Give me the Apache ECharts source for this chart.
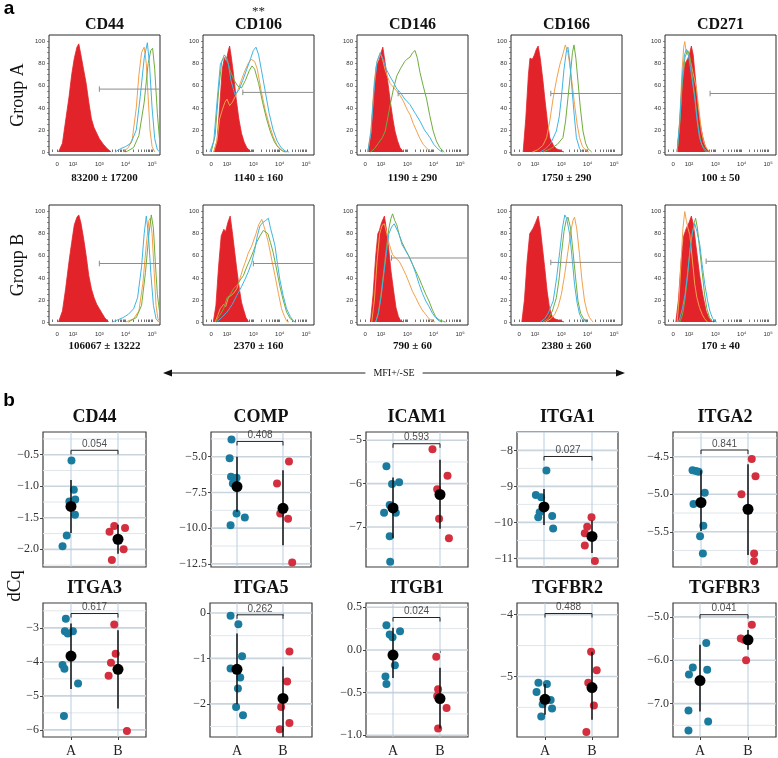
<!DOCTYPE html>
<html><head><meta charset="utf-8">
<script src="https://cdn.jsdelivr.net/npm/echarts@6/dist/echarts.min.js"></script>
<style>html,body{margin:0;padding:0;background:#fff}#c{width:778px;height:758px}</style>
</head><body><div id="c"></div><script>
// ---------------- DATA: flow cytometry (panel a) ----------------
const flowMarkers = ['CD44','CD106','CD146','CD166','CD271'];
const mfiA = ['83200 ± 17200','1140 ± 160','1190 ± 290','1750 ± 290','100 ± 50'];
const mfiB = ['106067 ± 13222','2370 ± 160','790 ± 60','2380 ± 260','170 ± 40'];
const gateStartA = [3.0, 2.6, 2.65, 2.6, 2.8];
const gateLevelA = [57, 54, 53, 53, 53];
const gateStartB = [3.0, 3.0, 2.4, 2.6, 2.65];
const gateLevelB = [53, 53, 58, 54, 55];
const flowXTickPos = [1.4, 2, 3, 4, 5];
const flowXTickLabels = ['0','10²','10³','10⁴','10⁵'];
const flowYTicks = [0,20,40,60,80,100];

const cd44A_red = [[1.45,0],[1.6,8],[1.7,25],[1.85,50],[1.95,70],[2.05,85],[2.15,95],[2.22,98],[2.3,88],[2.4,75],[2.5,62],[2.6,45],[2.7,30],[2.8,22],[2.9,17],[3.0,12],[3.15,7],[3.3,3],[3.45,0]];
const cd44A_orange = [[3.9,0],[4.1,4],[4.25,12],[4.4,40],[4.5,70],[4.6,90],[4.7,95],[4.78,80],[4.85,50],[4.92,20],[5.0,5],[5.1,0]];
const cd44A_blue = [[3.6,0],[3.8,3],[4.0,5],[4.2,8],[4.4,20],[4.55,50],[4.7,85],[4.82,99],[4.9,80],[5.0,40],[5.1,12],[5.2,2],[5.3,0]];
const cd44A_green = [[4.0,0],[4.3,4],[4.5,15],[4.7,45],[4.85,80],[4.95,92],[5.02,94],[5.1,75],[5.2,35],[5.28,12]];

const cd106A_red = [[1.5,0],[1.62,10],[1.72,40],[1.82,75],[1.9,85],[1.97,82],[2.05,92],[2.1,96],[2.17,85],[2.25,70],[2.35,48],[2.45,30],[2.55,17],[2.65,9],[2.75,4],[2.9,0]];
const cd106A_orange = [[1.5,0],[1.62,10],[1.72,30],[1.82,38],[1.92,45],[2.0,48],[2.1,42],[2.2,45],[2.35,52],[2.5,62],[2.65,72],[2.8,80],[2.92,84],[3.05,82],[3.15,75],[3.3,55],[3.45,38],[3.6,25],[3.75,14],[3.9,6],[4.05,2],[4.2,0]];
const cd106A_blue = [[1.35,0],[1.5,10],[1.62,45],[1.75,80],[1.85,84],[1.93,86],[2.05,80],[2.15,65],[2.3,52],[2.45,56],[2.6,65],[2.75,75],[2.9,85],[3.0,92],[3.1,95],[3.2,88],[3.3,75],[3.45,55],[3.6,35],[3.75,20],[3.9,10],[4.05,4],[4.2,1],[4.35,0]];
const cd106A_green = [[1.4,0],[1.55,15],[1.68,55],[1.8,82],[1.9,88],[2.0,85],[2.1,75],[2.25,66],[2.4,60],[2.55,58],[2.7,65],[2.85,74],[2.95,78],[3.05,75],[3.2,62],[3.35,45],[3.5,30],[3.65,18],[3.8,9],[3.95,4],[4.1,1],[4.25,0]];

const cd146A_red = [[1.5,0],[1.62,15],[1.72,50],[1.82,78],[1.94,84],[2.0,90],[2.07,95],[2.15,82],[2.25,65],[2.34,48],[2.45,30],[2.53,19],[2.63,10],[2.72,4],[2.85,0]];
const cd146A_orange = [[1.5,0],[1.62,20],[1.75,65],[1.85,82],[1.97,89],[2.05,85],[2.15,75],[2.25,68],[2.35,62],[2.5,58],[2.6,55],[2.73,51],[2.85,46],[3.0,38],[3.1,34],[3.22,26],[3.35,19],[3.48,12],[3.6,7],[3.75,3],[3.9,0]];
const cd146A_blue = [[1.5,0],[1.62,18],[1.75,60],[1.85,82],[1.97,90],[2.08,84],[2.2,75],[2.35,68],[2.5,62],[2.6,57],[2.73,54],[2.9,48],[3.1,43],[3.3,35],[3.48,28],[3.65,20],[3.86,13],[4.0,7],[4.11,4],[4.25,1],[4.35,0]];
const cd146A_green = [[1.6,0],[1.75,3],[1.9,8],[2.05,13],[2.16,19],[2.25,30],[2.35,43],[2.48,58],[2.6,69],[2.75,76],[2.9,82],[2.98,84],[3.1,86],[3.2,90],[3.29,92],[3.38,85],[3.48,72],[3.6,60],[3.73,48],[3.85,33],[3.98,19],[4.1,10],[4.23,4],[4.4,0]];

const cd166A_red = [[1.55,0],[1.65,30],[1.75,70],[1.81,85],[1.9,84],[1.98,88],[2.05,93],[2.12,96],[2.2,85],[2.3,65],[2.37,49],[2.47,28],[2.56,13],[2.7,6],[2.81,3],[3.0,1],[3.1,0]];
const cd166A_orange = [[1.9,0],[2.1,2],[2.3,6],[2.44,13],[2.56,28],[2.69,49],[2.82,66],[2.94,79],[3.05,88],[3.15,97],[3.25,90],[3.32,79],[3.42,60],[3.5,43],[3.6,25],[3.69,13],[3.8,5],[3.95,1],[4.05,0]];
const cd166A_blue = [[2.2,0],[2.4,3],[2.6,8],[2.81,19],[2.92,32],[3.0,49],[3.1,75],[3.2,93],[3.25,95],[3.32,82],[3.38,64],[3.47,38],[3.57,13],[3.69,3],[3.8,0]];
const cd166A_green = [[2.3,0],[2.6,3],[2.85,7],[3.06,13],[3.16,28],[3.25,49],[3.35,72],[3.42,90],[3.48,97],[3.55,85],[3.63,64],[3.72,40],[3.82,19],[3.92,8],[4.01,3],[4.15,0]];

const cd271A_red = [[1.55,0],[1.65,25],[1.75,60],[1.85,80],[1.96,85],[2.03,90],[2.09,96],[2.16,88],[2.25,65],[2.34,40],[2.43,25],[2.53,13],[2.62,5],[2.72,1],[2.8,0]];
const cd271A_orange = [[1.55,0],[1.65,30],[1.74,75],[1.8,95],[1.84,100],[1.9,90],[1.96,88],[2.03,85],[2.15,72],[2.28,58],[2.38,38],[2.47,19],[2.56,9],[2.65,4],[2.78,0]];
const cd271A_blue = [[1.55,0],[1.65,28],[1.75,70],[1.83,88],[1.9,93],[1.98,88],[2.08,72],[2.15,60],[2.22,49],[2.3,30],[2.4,13],[2.5,6],[2.59,3],[2.7,0]];
const cd271A_green = [[1.55,0],[1.65,25],[1.75,65],[1.85,86],[1.95,92],[2.02,88],[2.1,74],[2.18,58],[2.26,42],[2.34,25],[2.44,10],[2.55,3],[2.65,0]];

const cd44B_red = [[1.45,0],[1.6,10],[1.72,30],[1.85,55],[1.95,72],[2.05,88],[2.15,95],[2.22,97],[2.3,90],[2.4,76],[2.5,60],[2.6,42],[2.7,30],[2.8,22],[2.9,16],[3.0,12],[3.1,8],[3.2,4],[3.35,0]];
const cd44B_orange = [[4.0,0],[4.3,3],[4.5,10],[4.65,35],[4.78,70],[4.88,92],[4.93,94],[5.0,80],[5.08,45],[5.15,15],[5.22,3],[5.3,0]];
const cd44B_blue = [[3.5,0],[3.7,2],[3.9,4],[4.1,7],[4.3,12],[4.45,22],[4.6,50],[4.7,80],[4.78,96],[4.86,80],[4.95,45],[5.05,15],[5.15,3],[5.25,0]];
const cd44B_green = [[4.1,0],[4.4,4],[4.6,15],[4.75,45],[4.88,80],[4.97,97],[5.05,85],[5.12,55],[5.2,25],[5.28,10]];

const cd106B_red = [[1.48,0],[1.58,15],[1.68,50],[1.78,78],[1.88,84],[1.95,82],[2.03,90],[2.12,96],[2.2,82],[2.3,62],[2.37,48],[2.47,30],[2.55,18],[2.62,12],[2.72,4],[2.82,0]];
const cd106B_orange = [[1.55,0],[1.65,6],[1.74,12],[1.87,16],[1.95,14],[2.05,22],[2.12,21],[2.25,26],[2.37,30],[2.5,40],[2.6,48],[2.69,54],[2.8,62],[2.94,69],[3.1,80],[3.2,88],[3.32,93],[3.45,83],[3.57,72],[3.7,56],[3.82,42],[3.95,26],[4.07,12],[4.18,5],[4.26,1],[4.35,0]];
const cd106B_blue = [[1.6,0],[1.8,4],[2.0,9],[2.2,16],[2.37,24],[2.55,32],[2.69,39],[2.8,45],[2.94,54],[3.05,65],[3.15,78],[3.25,87],[3.35,90],[3.47,92],[3.57,94],[3.65,85],[3.75,76],[3.82,69],[3.92,52],[4.0,39],[4.13,24],[4.26,12],[4.4,5],[4.51,1],[4.6,0]];
const cd106B_green = [[1.55,0],[1.7,5],[1.87,12],[2.0,22],[2.1,24],[2.25,30],[2.4,34],[2.5,38],[2.62,42],[2.75,50],[2.88,57],[3.0,64],[3.12,72],[3.25,78],[3.38,83],[3.45,84],[3.55,80],[3.65,72],[3.75,63],[3.88,48],[4.0,33],[4.13,20],[4.26,9],[4.4,3],[4.51,1],[4.6,0]];

const cd146B_red = [[1.6,0],[1.7,25],[1.8,60],[1.88,80],[1.94,83],[2.02,90],[2.13,96],[2.2,85],[2.3,65],[2.38,46],[2.48,28],[2.57,13],[2.66,5],[2.75,1],[2.85,0]];
const cd146B_orange = [[1.65,0],[1.75,20],[1.85,55],[1.95,80],[2.05,88],[2.13,89],[2.22,80],[2.32,70],[2.44,61],[2.55,58],[2.69,55],[2.8,50],[2.94,43],[3.06,36],[3.19,28],[3.32,22],[3.44,16],[3.56,11],[3.69,7],[3.82,3],[3.94,1],[4.05,0]];
const cd146B_blue = [[1.8,0],[1.9,8],[2.0,22],[2.1,42],[2.2,62],[2.3,80],[2.4,86],[2.5,89],[2.57,89],[2.68,80],[2.8,70],[2.95,64],[3.07,59],[3.2,52],[3.32,44],[3.45,34],[3.57,26],[3.7,19],[3.82,14],[3.95,8],[4.07,4],[4.2,1],[4.3,0]];
const cd146B_green = [[1.8,0],[1.9,8],[2.0,25],[2.1,45],[2.19,64],[2.3,85],[2.38,94],[2.44,98],[2.52,92],[2.6,88],[2.69,79],[2.8,72],[2.92,66],[3.07,59],[3.2,52],[3.32,46],[3.44,40],[3.56,33],[3.7,25],[3.82,19],[3.95,11],[4.07,5],[4.2,2],[4.32,1],[4.45,0]];

const cd166B_red = [[1.5,0],[1.6,20],[1.7,55],[1.8,80],[1.93,85],[2.02,90],[2.12,96],[2.2,85],[2.28,68],[2.37,49],[2.46,28],[2.55,13],[2.64,6],[2.74,3],[2.85,2],[3.0,1],[3.1,0]];
const cd166B_orange = [[2.4,0],[2.6,3],[2.75,7],[2.88,14],[3.0,25],[3.12,42],[3.25,64],[3.36,82],[3.44,92],[3.5,95],[3.58,85],[3.69,61],[3.78,38],[3.88,19],[3.98,9],[4.07,4],[4.2,0]];
const cd166B_blue = [[2.2,0],[2.37,3],[2.5,8],[2.69,19],[2.82,40],[2.94,64],[3.04,85],[3.13,97],[3.2,94],[3.32,79],[3.42,55],[3.5,34],[3.6,17],[3.69,7],[3.8,2],[3.88,1],[3.95,0]];
const cd166B_green = [[2.3,0],[2.5,3],[2.66,10],[2.81,22],[2.92,40],[3.0,61],[3.1,82],[3.18,92],[3.25,95],[3.35,85],[3.44,64],[3.54,40],[3.63,19],[3.73,8],[3.82,4],[3.95,0]];

const cd271B_red = [[1.5,0],[1.6,20],[1.7,55],[1.8,78],[1.9,85],[2.0,90],[2.09,96],[2.17,88],[2.27,68],[2.4,43],[2.52,25],[2.65,10],[2.75,4],[2.84,1],[2.95,0]];
const cd271B_orange = [[1.55,0],[1.62,20],[1.7,55],[1.77,85],[1.84,100],[1.9,92],[1.96,85],[2.03,79],[2.12,58],[2.22,34],[2.3,22],[2.4,13],[2.5,7],[2.59,3],[2.7,0]];
const cd271B_blue = [[1.6,0],[1.66,4],[1.75,12],[1.85,25],[1.95,45],[2.04,65],[2.12,80],[2.22,89],[2.3,82],[2.41,70],[2.5,52],[2.6,34],[2.7,20],[2.79,10],[2.9,3],[2.98,1],[3.05,0]];
const cd271B_green = [[1.65,0],[1.75,6],[1.84,19],[1.94,40],[2.03,64],[2.12,80],[2.2,90],[2.25,94],[2.32,85],[2.4,67],[2.5,45],[2.59,25],[2.68,12],[2.78,4],[2.9,0]];

// ---------------- DATA: qPCR dCq (panel b) ----------------
const genes = ['CD44','COMP','ICAM1','ITGA1','ITGA2','ITGA3','ITGA5','ITGB1','TGFBR2','TGFBR3'];
const pValues = ['0.054','0.408','0.593','0.027','0.841','0.617','0.262','0.024','0.488','0.041'];
const yTickValues = [[-2,-1.5,-1,-0.5],[-12.5,-10,-7.5,-5],[-7,-6,-5],[-11,-10,-9,-8],[-5.5,-5,-4.5],[-6,-5,-4,-3],[-2,-1,0],[-1,-0.5,0,0.5],[-5,-4],[-7,-6,-5]];
const yTickDecimals = [1,1,0,0,1,0,0,1,0,1];
const yMinG = [-2.28,-12.72,-7.92,-11.24,-5.97,-6.21,-2.73,-1.02,-5.98,-7.77];
const yMaxG = [-0.14,-3.27,-4.81,-7.49,-4.17,-2.27,0.22,0.55,-3.81,-4.68];

const CD44_A = [-0.59,-1.055,-1.24,-1.21,-1.45,-1.78,-1.95];
const CD44_Ajit = [0.01,0.06,-0.035,0.09,0.085,-0.09,-0.18];
const CD44_B = [-1.63,-1.72,-1.66,-2.0,-2.17];
const CD44_Bjit = [-0.08,-0.18,0.15,0.12,-0.13];
const COMP_A = [-3.79,-5.1,-6.4,-6.47,-6.88,-8.97,-9.25,-9.8];
const COMP_Ajit = [-0.12,-0.16,-0.13,-0.01,-0.09,-0.01,0.17,-0.14];
const COMP_B = [-5.33,-6.88,-8.97,-9.35,-12.4];
const COMP_Bjit = [0.13,-0.13,-0.06,0.11,0.2];
const ICAM1_A = [-5.6,-6.01,-5.97,-6.49,-6.67,-6.67,-7.21,-7.8];
const ICAM1_Ajit = [-0.14,-0.02,0.13,-0.07,-0.19,0.06,-0.07,-0.06];
const ICAM1_B = [-5.21,-5.82,-6.13,-6.81,-7.26];
const ICAM1_Bjit = [-0.16,0.16,-0.06,-0.02,0.19];
const ITGA1_A = [-8.56,-9.24,-9.3,-9.72,-9.86,-9.82,-10.17];
const ITGA1_Ajit = [0.05,-0.17,-0.06,-0.09,-0.12,0.17,0.19];
const ITGA1_B = [-9.86,-10.12,-10.3,-10.64,-11.07];
const ITGA1_Bjit = [-0.01,-0.1,-0.15,-0.15,0.06];
const ITGA2_A = [-4.68,-4.69,-4.7,-4.98,-5.13,-5.42,-5.56,-5.79];
const ITGA2_Ajit = [-0.18,-0.11,-0.05,0.08,-0.16,0.05,-0.02,0.04];
const ITGA2_B = [-4.53,-4.76,-5.0,-5.79,-5.89];
const ITGA2_Bjit = [0.08,0.16,-0.14,0.13,0.13];
const ITGA3_A = [-2.73,-3.1,-3.17,-3.1,-4.09,-4.2,-4.64,-5.59];
const ITGA3_Ajit = [-0.11,-0.13,-0.07,0.04,-0.18,-0.14,0.15,-0.15];
const ITGA3_B = [-2.9,-3.76,-4.03,-4.41,-6.03];
const ITGA3_Bjit = [-0.08,-0.05,-0.15,-0.2,0.19];
const ITGA5_A = [-0.06,-0.25,-0.95,-1.22,-1.42,-1.66,-2.07,-2.25];
const ITGA5_Ajit = [-0.14,0.03,0.11,-0.14,0.07,0.02,-0.02,0.13];
const ITGA5_B = [-0.85,-1.51,-2.07,-2.42,-2.56];
const ITGA5_Bjit = [0.14,0.09,-0.04,0.14,-0.07];
const ITGB1_A = [0.29,0.18,0.15,0.22,-0.18,-0.31,-0.40];
const ITGB1_Ajit = [-0.14,-0.07,-0.01,0.15,0.04,-0.16,-0.14];
const ITGB1_B = [-0.08,-0.46,-0.54,-0.68,-0.92];
const ITGB1_Bjit = [-0.08,-0.04,-0.06,0.14,-0.04];
const TGFBR2_A = [-5.1,-5.12,-5.25,-5.38,-5.45,-5.52,-5.65];
const TGFBR2_Ajit = [-0.14,0.04,-0.18,0.12,-0.05,0.15,-0.08];
const TGFBR2_B = [-4.6,-4.9,-5.1,-5.47,-5.9];
const TGFBR2_Bjit = [-0.02,0.1,-0.08,0.04,-0.12];
const TGFBR3_A = [-5.6,-6.17,-6.33,-6.22,-7.16,-7.41,-7.62];
const TGFBR3_Ajit = [0.13,-0.15,-0.23,0.15,-0.24,0.17,-0.24];
const TGFBR3_B = [-5.18,-5.53,-5.5,-5.55,-6.0];
const TGFBR3_Bjit = [0.08,-0.08,-0.15,0.0,-0.04];

const meanA = [-1.32,-7.09,-6.56,-9.57,-5.11,-3.83,-1.24,-0.06,-5.37,-6.47];
const errA_lo = [-1.74,-8.85,-7.26,-10.07,-5.49,-4.8,-2.01,-0.33,-5.62,-7.18];
const errA_hi = [-0.90,-5.0,-5.86,-9.07,-4.68,-2.87,-0.45,0.26,-5.12,-5.64];
const meanB = [-1.84,-8.61,-6.25,-10.39,-5.2,-4.22,-1.88,-0.57,-5.18,-5.53];
const errB_lo = [-2.07,-11.2,-7.04,-10.85,-5.81,-5.37,-2.73,-0.92,-5.7,-5.76];
const errB_hi = [-1.61,-5.95,-5.45,-9.95,-4.6,-3.07,-1.18,-0.21,-4.6,-5.3];
const bracketY = [-0.43,-3.93,-5.08,-8.17,-4.41,-2.58,-0.04,0.38,-3.98,-4.95];

// ---------------- STYLE / LAYOUT ----------------
const SERIF = '"Liberation Serif","DejaVu Serif",serif';
const SANS = '"Liberation Sans","DejaVu Sans",sans-serif';
const C_RED = '#e3232a', C_ORANGE = '#f2a14c', C_BLUE = '#41b4e2', C_GREEN = '#70ad3d';
const DOT_BLUE = '#1a7b9f', DOT_RED = '#d42f3e';

const flowLeft = [49,203,357,511,665];
const flowTop = [35,205];
const FLOW_W = 111, FLOW_H = 120;
const dotBoxLeft = [43,211,366,517,673,43,210,366,517,673];
const dotBoxRight = [146,311,468,618,777,146,312,468,618,776];
const dotAPos = [71,237,393,544,701,71,237,393,545,700];
const dotBPos = [118,283,440,592,748,118,283,440,592,748];
const dotTop = [432,603];
const DOT_H = 135;

const histA = [
  [cd44A_red,cd44A_orange,cd44A_blue,cd44A_green],
  [cd106A_red,cd106A_orange,cd106A_blue,cd106A_green],
  [cd146A_red,cd146A_orange,cd146A_blue,cd146A_green],
  [cd166A_red,cd166A_orange,cd166A_blue,cd166A_green],
  [cd271A_red,cd271A_orange,cd271A_blue,cd271A_green]];
const histB = [
  [cd44B_red,cd44B_orange,cd44B_blue,cd44B_green],
  [cd106B_red,cd106B_orange,cd106B_blue,cd106B_green],
  [cd146B_red,cd146B_orange,cd146B_blue,cd146B_green],
  [cd166B_red,cd166B_orange,cd166B_blue,cd166B_green],
  [cd271B_red,cd271B_orange,cd271B_blue,cd271B_green]];
const groupA = [CD44_A,COMP_A,ICAM1_A,ITGA1_A,ITGA2_A,ITGA3_A,ITGA5_A,ITGB1_A,TGFBR2_A,TGFBR3_A];
const groupAjit = [CD44_Ajit,COMP_Ajit,ICAM1_Ajit,ITGA1_Ajit,ITGA2_Ajit,ITGA3_Ajit,ITGA5_Ajit,ITGB1_Ajit,TGFBR2_Ajit,TGFBR3_Ajit];
const groupB = [CD44_B,COMP_B,ICAM1_B,ITGA1_B,ITGA2_B,ITGA3_B,ITGA5_B,ITGB1_B,TGFBR2_B,TGFBR3_B];
const groupBjit = [CD44_Bjit,COMP_Bjit,ICAM1_Bjit,ITGA1_Bjit,ITGA2_Bjit,ITGA3_Bjit,ITGA5_Bjit,ITGB1_Bjit,TGFBR2_Bjit,TGFBR3_Bjit];

// ---------------- BUILD ----------------
const grids = [], xAxes = [], yAxes = [], series = [], graphics = [];
function addPanel(g, x, y) {
  grids.push(g); const i = grids.length - 1;
  x.gridIndex = i; y.gridIndex = i; xAxes.push(x); yAxes.push(y); return i;
}
function txt(text, x, y, font, opts) {
  opts = opts || {};
  graphics.push({type:'text', x, y, rotation: opts.rotation || 0, z: 100,
    style:{text, font, fill: opts.fill || '#111', align:'center', verticalAlign:'middle',
      textAlign:'center', textVerticalAlign:'middle',
      backgroundColor: opts.bg, padding: opts.pad}});
}

const FLOW_XMIN = 1.09, FLOW_XMAX = 5.3;
const xMinorTicks = [1.2,1.4,1.6,1.75,1.86];
[2,3,4].forEach(d => { for (let k = 1; k <= 9; k++) xMinorTicks.push(d + Math.log10(k)); });
xMinorTicks.push(5, 5 + Math.log10(2));
const yMinorTicks = []; for (let v = 0; v <= 100; v += 5) yMinorTicks.push(v);

function flowPanel(r, c, curves, gateStart, gateLevel) {
  const i = addPanel(
    {left: flowLeft[c], top: flowTop[r], width: FLOW_W, height: FLOW_H, show: true,
     borderColor: '#2a2a2a', borderWidth: 1, backgroundColor: '#fff'},
    {type:'value', min: FLOW_XMIN, max: FLOW_XMAX, axisLine:{show:false}, splitLine:{show:false},
     axisTick:{show:true, inside:true, length:2.5, customValues: xMinorTicks, lineStyle:{color:'#333', width:0.7}},
     axisLabel:{customValues: flowXTickPos, fontSize: 6, color:'#333', fontFamily: SANS, margin: 6,
       formatter: v => { const k = flowXTickPos.findIndex(p => Math.abs(p - v) < 1e-6); return k >= 0 ? flowXTickLabels[k] : ''; }}},
    {type:'value', min: -2.7, max: 106, axisLine:{show:false}, splitLine:{show:false},
     axisTick:{show:true, inside:false, length:2, customValues: yMinorTicks, lineStyle:{color:'#444', width:0.6}},
     axisLabel:{customValues: flowYTicks, fontSize: 6, color:'#333', fontFamily: SANS, margin: 4}});
  const base = {xAxisIndex:i, yAxisIndex:i, symbol:'none', silent:true, animation:false, type:'line'};
  series.push(Object.assign({}, base, {data: curves[0], z: 2, lineStyle:{color: C_RED, width: 0.8},
    areaStyle:{color: C_RED, opacity: 1}}));
  const lineCols = [C_ORANGE, C_BLUE, C_GREEN];
  [1,3,2].forEach(k => series.push(Object.assign({}, base, {data: curves[k], z: 3,
    lineStyle:{color: lineCols[k-1], width: 1}})));
  series.push(Object.assign({}, base, {data: [[gateStart, gateLevel],[FLOW_XMAX, gateLevel]], z: 4,
    lineStyle:{color:'#8c8c8c', width: 1}}));
  series.push(Object.assign({}, base, {data: [[gateStart, gateLevel - 2.5],[gateStart, gateLevel + 2.5]], z: 4,
    lineStyle:{color:'#8c8c8c', width: 1}}));
}
for (let c = 0; c < 5; c++) flowPanel(0, c, histA[c], gateStartA[c], gateLevelA[c]);
for (let c = 0; c < 5; c++) flowPanel(1, c, histB[c], gateStartB[c], gateLevelB[c]);

// flow texts
txt('a', 9, 9, 'bold 19px ' + SANS, {fill:'#000'});
for (let c = 0; c < 5; c++) {
  const cx = flowLeft[c] + FLOW_W / 2;
  txt(flowMarkers[c], cx, 25, 'bold 16px ' + SERIF, {fill:'#111'});
  txt(mfiA[c], cx, 178, 'bold 11px ' + SERIF, {fill:'#111'});
  txt(mfiB[c], cx, 346, 'bold 11px ' + SERIF, {fill:'#111'});
}
txt('**', flowLeft[1] + FLOW_W / 2, 12, '13px ' + SERIF, {fill:'#222'});
txt('Group A', 18, 95, '18px ' + SERIF, {rotation: Math.PI / 2, fill:'#111'});
txt('Group B', 18, 265, '18px ' + SERIF, {rotation: Math.PI / 2, fill:'#111'});

// MFI arrow
graphics.push({type:'line', shape:{x1:168, y1:373, x2:620, y2:373}, style:{stroke:'#222', lineWidth:1}});
graphics.push({type:'polygon', shape:{points:[[163,373],[172,369.5],[172,376.5]]}, style:{fill:'#111'}});
graphics.push({type:'polygon', shape:{points:[[625,373],[616,369.5],[616,376.5]]}, style:{fill:'#111'}});
txt('MFI+/-SE', 394, 373, '10px ' + SERIF, {fill:'#111', bg:'#fff', pad:[0,8]});

// dot plots
txt('b', 9, 401, 'bold 19px ' + SANS, {fill:'#000'});
txt('dCq', 15, 586, '19px ' + SERIF, {rotation: Math.PI / 2, fill:'#111'});

function fmtTick(v, dec) { const s = Math.abs(v).toFixed(dec); return (v < 0 && Math.abs(v) > 1e-9 ? '−' : '') + s; }

genes.forEach((g, gi) => {
  const row = gi < 5 ? 0 : 1;
  const L = dotBoxLeft[gi], R = dotBoxRight[gi], pa = dotAPos[gi], pb = dotBPos[gi];
  const unit = pb - pa;
  const xMin = 1 - (pa - L) / unit, xMax = 2 + (R - pb) / unit;
  const yMin = yMinG[gi], yMax = yMaxG[gi];
  const majors = yTickValues[gi], dec = yTickDecimals[gi];
  const i = addPanel(
    {left: L, top: dotTop[row], width: R - L, height: DOT_H, show: true,
     borderColor: '#3c3c3c', borderWidth: 1.2, backgroundColor: '#fff'},
    {type:'value', min: xMin, max: xMax, axisLine:{show:false}, splitLine:{show:false},
     axisTick:{show: row === 1, customValues:[1,2], length:3, lineStyle:{color:'#444'}},
     axisLabel:{show: row === 1, customValues:[1,2], formatter: v => (Math.abs(v - 1) < 1e-6 ? 'A' : 'B'),
       fontFamily: SERIF, fontSize: 14, color:'#222', margin: 7}},
    {type:'value', min: yMin, max: yMax, axisLine:{show:false}, splitLine:{show:false},
     axisTick:{show:true, customValues: majors, length:3, lineStyle:{color:'#444'}},
     axisLabel:{customValues: majors, formatter: v => fmtTick(v, dec), fontFamily: SERIF, fontSize: 12,
       color:'#333', margin: 4}});
  const base = {xAxisIndex:i, yAxisIndex:i, silent:true, animation:false};
  const step = majors[1] - majors[0];
  for (let v = majors[0] - 2 * step; v <= yMax + 1e-9; v += step / 2) {
    if (v < yMin || v > yMax) continue;
    const isMajor = Math.abs((v - majors[0]) / step - Math.round((v - majors[0]) / step)) < 1e-6;
    series.push(Object.assign({}, base, {type:'line', symbol:'none', z:1, data:[[xMin, v],[xMax, v]],
      lineStyle:{color: isMajor ? '#c9d4dd' : '#e0e6eb', width: isMajor ? 1.6 : 1}}));
  }
  [1,2].forEach(xv => series.push(Object.assign({}, base, {type:'line', symbol:'none', z:1,
    data:[[xv, yMin],[xv, yMax]], lineStyle:{color:'#b8cde0', width:1}})));
  const d = (yMax - yMin) * 0.03, b = bracketY[gi];
  series.push(Object.assign({}, base, {type:'line', symbol:'none', z:2,
    data:[[1, b - d],[1, b],[2, b],[2, b - d]], lineStyle:{color:'#222', width:1}}));
  series.push(Object.assign({}, base, {type:'scatter', symbolSize:0, z:6, data:[[1.5, b]],
    label:{show:true, position:'top', distance:1, formatter: pValues[gi], fontFamily: SANS, fontSize:10, color:'#222'}}));
  series.push(Object.assign({}, base, {type:'scatter', symbol:'circle', symbolSize:8, z:3,
    itemStyle:{color: DOT_BLUE, opacity:1}, data: groupA[gi].map((v, k) => [1 + groupAjit[gi][k], v])}));
  series.push(Object.assign({}, base, {type:'scatter', symbol:'circle', symbolSize:8, z:3,
    itemStyle:{color: DOT_RED, opacity:1}, data: groupB[gi].map((v, k) => [2 + groupBjit[gi][k], v])}));
  series.push(Object.assign({}, base, {type:'line', symbol:'none', z:4,
    data:[[1, errA_lo[gi]],[1, errA_hi[gi]]], lineStyle:{color:'#111', width:1.5}}));
  series.push(Object.assign({}, base, {type:'line', symbol:'none', z:4,
    data:[[2, errB_lo[gi]],[2, errB_hi[gi]]], lineStyle:{color:'#111', width:1.5}}));
  series.push(Object.assign({}, base, {type:'scatter', symbol:'circle', symbolSize:11, z:5,
    itemStyle:{color:'#000', opacity:1}, data:[[1, meanA[gi]],[2, meanB[gi]]]}));
  txt(g, (L + R) / 2, dotTop[row] - 15, 'bold 18px ' + SERIF, {fill:'#111'});
});

const chart = echarts.init(document.getElementById('c'), null, {renderer:'canvas'});
chart.setOption({animation:false, backgroundColor:'#fff', grid: grids, xAxis: xAxes, yAxis: yAxes,
  series, graphic:{elements: graphics}});
</script></body></html>
